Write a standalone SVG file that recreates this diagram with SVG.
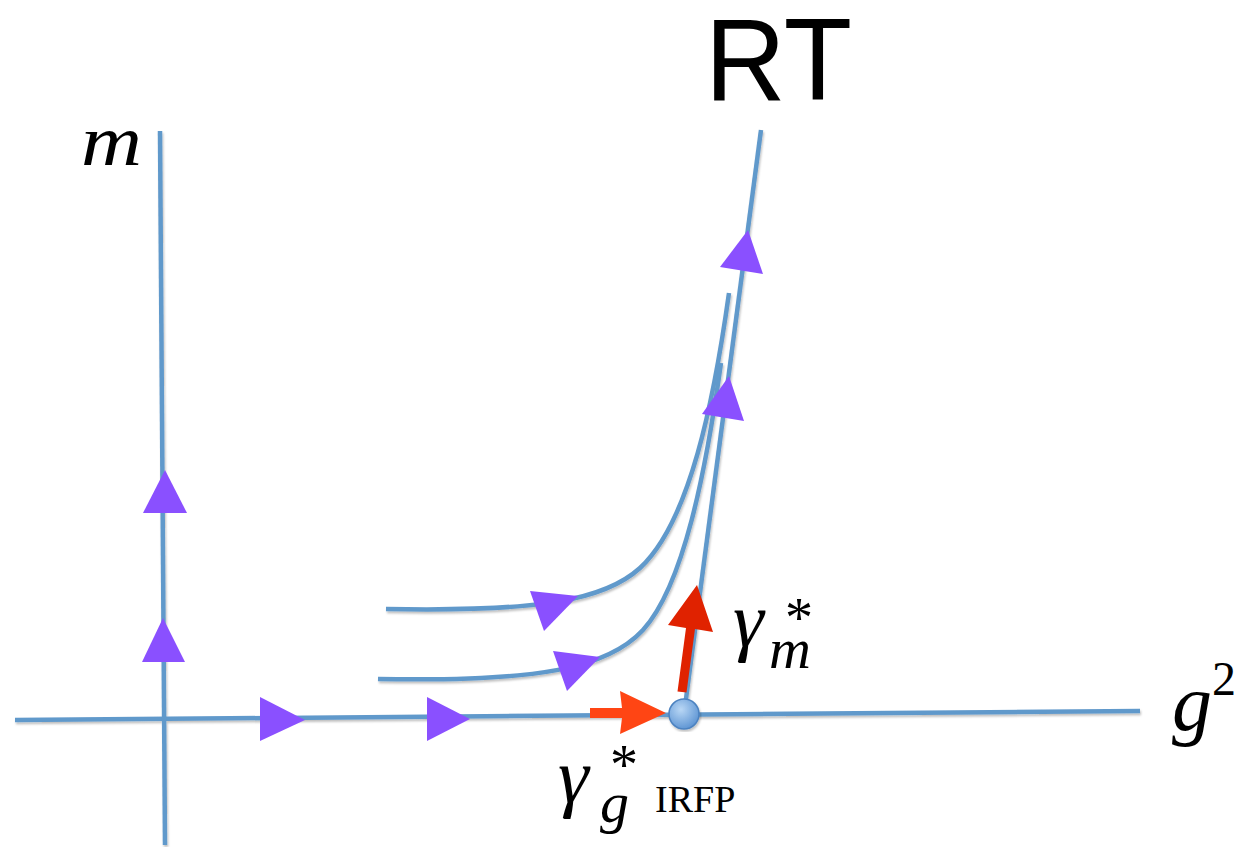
<svg xmlns="http://www.w3.org/2000/svg" width="1239" height="847" viewBox="0 0 1239 847">
<defs>
<filter id="sh" x="-10%" y="-10%" width="120%" height="120%">
<feDropShadow dx="1" dy="2" stdDeviation="1.2" flood-color="#000" flood-opacity="0.25"/>
</filter>
<radialGradient id="dot" cx="0.4" cy="0.35" r="0.7">
<stop offset="0" stop-color="#B9D7F5"/>
<stop offset="1" stop-color="#5A92D2"/>
</radialGradient>
<style>
.flow{fill:none;stroke:#6199CB;stroke-width:4.5;stroke-linecap:butt}
.tri{fill:#8A50FF}
.math{font-family:"Liberation Serif",serif;font-style:italic;fill:#000}
.rm{font-family:"Liberation Serif",serif;font-style:normal;fill:#000}
</style>
</defs>
<rect width="1239" height="847" fill="#fff"/>
<g id="connectors" filter="url(#sh)">
<path class="flow" d="M15,720 L1140,711"/>
<path class="flow" d="M160,131 L165,845"/>
<path class="flow" d="M684,714 L761,130"/>
<path class="flow" d="M386,609 C540,612 605,600 640,568 C690,522 714,400 729,293"/>
<path class="flow" d="M378,679 C540,682 608,668 643,630 C684,585 706,470 721,363"/>
</g>
<g id="flow-arrows">
<polygon class="tri" points="165,470 143,513 187,513"/>
<polygon class="tri" points="163,618 142,662 185,662"/>
<polygon class="tri" points="260,697 305,720 260,741"/>
<polygon class="tri" points="427,697 470,719 427,741"/>
<polygon class="tri" points="578,596 530,591 544,631"/>
<polygon class="tri" points="600,657 553,651 567,691"/>
<polygon class="tri" points="748,230 720,267 763,274"/>
<polygon class="tri" points="729,376 702,414 744,421"/>
</g>
<g id="eigen-arrows">
<polygon fill="#FF4514" points="590,708 622,708 620,691 666,713 620,734 622,718 590,718"/>
<polygon fill="#E02200" points="677.5,691.4 686,627.9 668,625 697,585 713,632 695,629.1 686.5,692.6"/>
</g>
<g id="irfp" filter="url(#sh)">
<circle cx="684" cy="714" r="15" fill="url(#dot)" stroke="#4C82C0" stroke-width="1.5"/>
</g>
<g id="labels">
<text x="705" y="100" font-family="'Liberation Sans',Arial,sans-serif" font-size="117" textLength="147" lengthAdjust="spacingAndGlyphs">RT</text>
<text class="math" x="81" y="165" font-size="72" textLength="61" lengthAdjust="spacingAndGlyphs">m</text>
<text class="math" x="1172" y="730" font-size="80">g<tspan class="rm" x="1212" y="695" font-size="48">2</tspan></text>
<text class="math" x="733" y="646" font-size="78">γ<tspan class="rm" x="785" y="637" font-size="56">*</tspan><tspan x="769" y="668" font-size="58">m</tspan></text>
<text class="math" x="558" y="802" font-size="78">γ<tspan class="rm" x="610" y="784" font-size="56">*</tspan><tspan x="600" y="822" font-size="58">g</tspan><tspan class="rm" x="655" y="812" font-size="38">IRFP</tspan></text>
</g>
</svg>
